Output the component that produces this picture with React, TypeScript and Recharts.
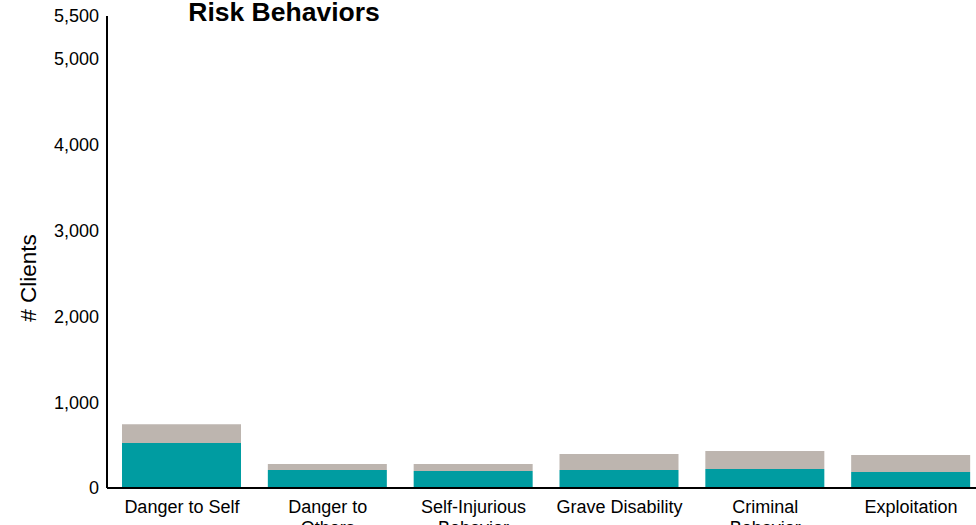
import React from "react";
import { BarChart, Bar, XAxis, YAxis } from "recharts";

const categories = [
  "Danger to Self",
  "Danger to Others",
  "Self-Injurious Behavior",
  "Grave Disability",
  "Criminal Behavior",
  "Exploitation",
];
const tickLines = [
  ["Danger to Self"],
  ["Danger to", "Others"],
  ["Self-Injurious", "Behavior"],
  ["Grave Disability"],
  ["Criminal", "Behavior"],
  ["Exploitation"],
];
const tealValues = [523, 209, 198, 209, 221, 186];
const grayValues = [221, 70, 81, 186, 209, 198];
const yTicks = [0, 1000, 2000, 3000, 4000, 5000, 5500];

const data = categories.map((c, i) => ({
  name: c,
  idx: i,
  teal: tealValues[i],
  gray: grayValues[i],
}));

const FONT = "'Liberation Sans', Arial, sans-serif";

const XTick = (props: any) => {
  const { x, y, payload } = props;
  const lines = tickLines[payload.index] ?? [String(payload.value)];
  return (
    <text x={x} y={y} textAnchor="middle" fontFamily={FONT} fontSize={18} fill="#000">
      {lines.map((l: string, i: number) => (
        <tspan key={i} x={x} dy={i === 0 ? 17 : 21}>
          {l}
        </tspan>
      ))}
    </text>
  );
};

const fmt = (v: number) => v.toLocaleString("en-US");

export default function App() {
  return (
    <div
      style={{
        position: "absolute",
        left: 0,
        top: 0,
        width: 976,
        height: 525,
        overflow: "hidden",
        background: "#fff",
      }}
    >
      <BarChart
        width={984}
        height={525}
        data={data}
        margin={{ top: 16, right: 0, bottom: 0, left: 0 }}
        barSize={119}
      >
        <XAxis
          dataKey="name"
          tickLine={false}
          axisLine={{ stroke: "#000", strokeWidth: 2 }}
          height={37}
          interval={0}
          padding={{ left: 2, right: 0 }}
          tick={<XTick />}
        />
        <YAxis
          width={107}
          domain={[0, 5500]}
          ticks={yTicks}
          tickFormatter={fmt}
          tickLine={false}
          axisLine={{ stroke: "#000", strokeWidth: 2 }}
          tick={{ fill: "#000", fontSize: 18, fontFamily: FONT }}
          interval={0}
        />
        <Bar dataKey="teal" stackId="a" fill="#009CA1" isAnimationActive={false} />
        <Bar dataKey="gray" stackId="a" fill="#BDB5AF" isAnimationActive={false} />
      </BarChart>
      <svg
        width={976}
        height={525}
        style={{ position: "absolute", left: 0, top: 0, pointerEvents: "none" }}
      >
        <text
          x={284}
          y={21}
          textAnchor="middle"
          fontFamily={FONT}
          fontWeight="bold"
          fontSize={26.5}
          fill="#000"
        >
          Risk Behaviors
        </text>
        <text
          x={36}
          y={278}
          textAnchor="middle"
          transform="rotate(-90 36 278)"
          fontFamily={FONT}
          fontSize={22.5}
          fill="#000"
        >
          # Clients
        </text>
      </svg>
    </div>
  );
}
